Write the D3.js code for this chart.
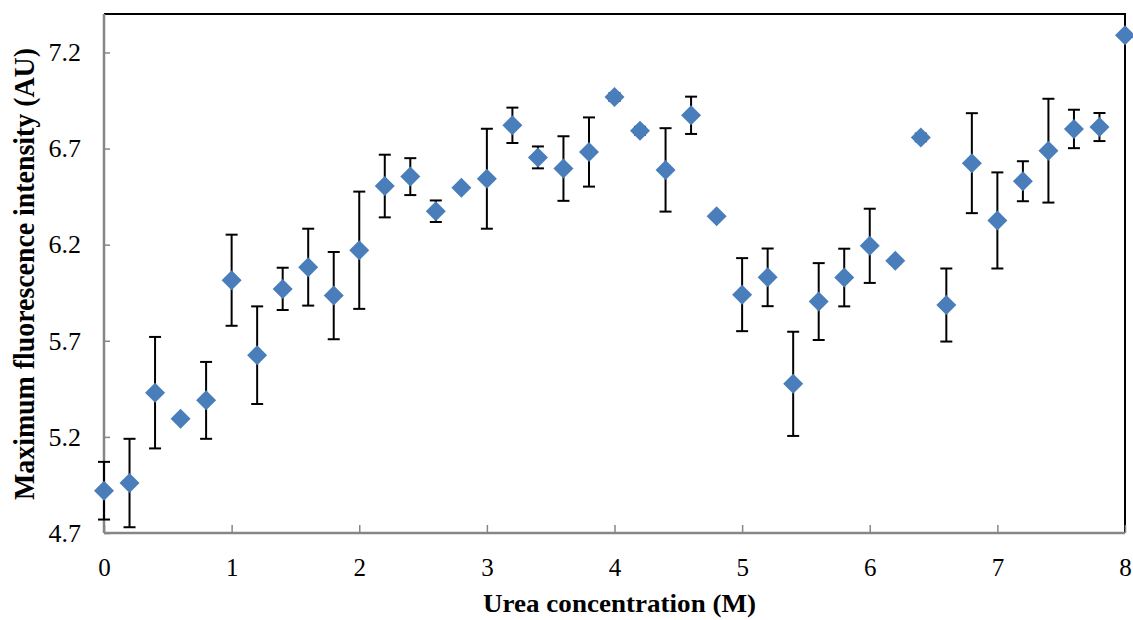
<!DOCTYPE html>
<html>
<head>
<meta charset="utf-8">
<script src="https://cdn.jsdelivr.net/npm/d3@7"></script>
<style>
body{margin:0;background:#fff;}
svg{display:block;}
</style>
</head>
<body>
<svg id="chart" width="1133" height="620"></svg>
<script>
const urea = [0,0.2,0.4,0.6,0.8,1.0,1.2,1.4,1.6,1.8,2.0,2.2,2.4,2.6,2.8,3.0,3.2,3.4,3.6,3.8,4.0,4.2,4.4,4.6,4.8,5.0,5.2,5.4,5.6,5.8,6.0,6.2,6.4,6.6,6.8,7.0,7.2,7.4,7.6,7.8,8.0];
const intensity = [4.92,4.96,5.43,5.295,5.39,6.015,5.625,5.97,6.083,5.935,6.171,6.505,6.554,6.374,6.496,6.543,6.821,6.654,6.596,6.682,6.968,6.793,6.589,6.873,6.348,5.94,6.03,5.476,5.904,6.029,6.194,6.116,6.758,5.886,6.624,6.326,6.53,6.689,6.802,6.812,7.29];
const errors = [0.15,0.23,0.29,0,0.20,0.237,0.254,0.11,0.20,0.227,0.305,0.163,0.096,0.056,0,0.26,0.092,0.057,0.168,0.18,0.02,0.02,0.217,0.097,0,0.19,0.15,0.271,0.20,0.15,0.193,0.015,0.02,0.19,0.26,0.25,0.104,0.27,0.10,0.073,0];
const xTicks = [0,1,2,3,4,5,6,7,8];
const yTicks = [4.7,5.2,5.7,6.2,6.7,7.2];
const xTitle = "Urea concentration (M)";
const yTitle = "Maximum fluorescence intensity (AU)";

const data = urea.map((u,i)=>({x:u,y:intensity[i],e:errors[i]}));

const svg = d3.select("#chart");
const L=104, R=1125, T=14, B=533;
const x = d3.scaleLinear().domain([0,8]).range([L,R]);
const y = d3.scaleLinear().domain([4.7,7.4]).range([B,T]);
const font = "'Liberation Serif','Times New Roman',serif";

// plot border (top/right black)
svg.append("path")
  .attr("d",`M${L},${T}H${R}V${B}`)
  .attr("fill","none").attr("stroke","#000").attr("stroke-width",2);

// x axis
const xAxis = d3.axisBottom(x).tickValues(xTicks).tickSize(-8).tickPadding(20).tickFormat(d3.format("d"));
const gx = svg.append("g").attr("transform",`translate(0,${B})`).call(xAxis);
gx.select(".domain").attr("stroke","#868686").attr("stroke-width",2.5).attr("d",`M${L},0H${R}`);
gx.selectAll(".tick line").attr("stroke","#868686").attr("stroke-width",1.5);
gx.selectAll(".tick text").attr("font-family",font).attr("font-size",25).attr("fill","#000")
  .attr("y",34).attr("dy","0.35em");

// y axis
const yAxis = d3.axisLeft(y).tickValues(yTicks).tickSize(-6).tickPadding(24).tickFormat(d3.format(".1f"));
const gy = svg.append("g").attr("transform",`translate(${L},0)`).call(yAxis);
gy.select(".domain").attr("stroke","#868686").attr("stroke-width",2.5).attr("d",`M0,${T}V${B}`);
gy.selectAll(".tick line").attr("stroke","#868686").attr("stroke-width",1.5);
gy.selectAll(".tick text").attr("font-family",font).attr("font-size",26).attr("fill","#000").attr("x",-23);

// error bars
const eb = svg.append("g").selectAll("g").data(data.filter(d=>d.e>0)).join("g");
eb.append("line")
  .attr("x1",d=>x(d.x)).attr("x2",d=>x(d.x))
  .attr("y1",d=>y(d.y+d.e)).attr("y2",d=>y(d.y-d.e))
  .attr("stroke","#000").attr("stroke-width",2);
eb.append("line")
  .attr("x1",d=>x(d.x)-6).attr("x2",d=>x(d.x)+6)
  .attr("y1",d=>y(d.y+d.e)).attr("y2",d=>y(d.y+d.e))
  .attr("stroke","#000").attr("stroke-width",2);
eb.append("line")
  .attr("x1",d=>x(d.x)-6).attr("x2",d=>x(d.x)+6)
  .attr("y1",d=>y(d.y-d.e)).attr("y2",d=>y(d.y-d.e))
  .attr("stroke","#000").attr("stroke-width",2);

// diamonds
const h=10;
svg.append("g").selectAll("path").data(data).join("path")
  .attr("d",d=>{const cx=x(d.x), cy=y(d.y); return `M${cx},${cy-h}L${cx+h},${cy}L${cx},${cy+h}L${cx-h},${cy}Z`;})
  .attr("fill","#4a7ebb");

// titles
svg.append("text").attr("x",619.5).attr("y",612).attr("text-anchor","middle")
  .attr("font-family",font).attr("font-weight","bold").attr("font-size",25)
  .attr("textLength",273).attr("lengthAdjust","spacingAndGlyphs").text(xTitle);
svg.append("text").attr("transform",`translate(34,274) rotate(-90)`).attr("text-anchor","middle")
  .attr("font-family",font).attr("font-weight","bold").attr("font-size",29)
  .attr("textLength",452).attr("lengthAdjust","spacingAndGlyphs").text(yTitle);
</script>
</body>
</html>
